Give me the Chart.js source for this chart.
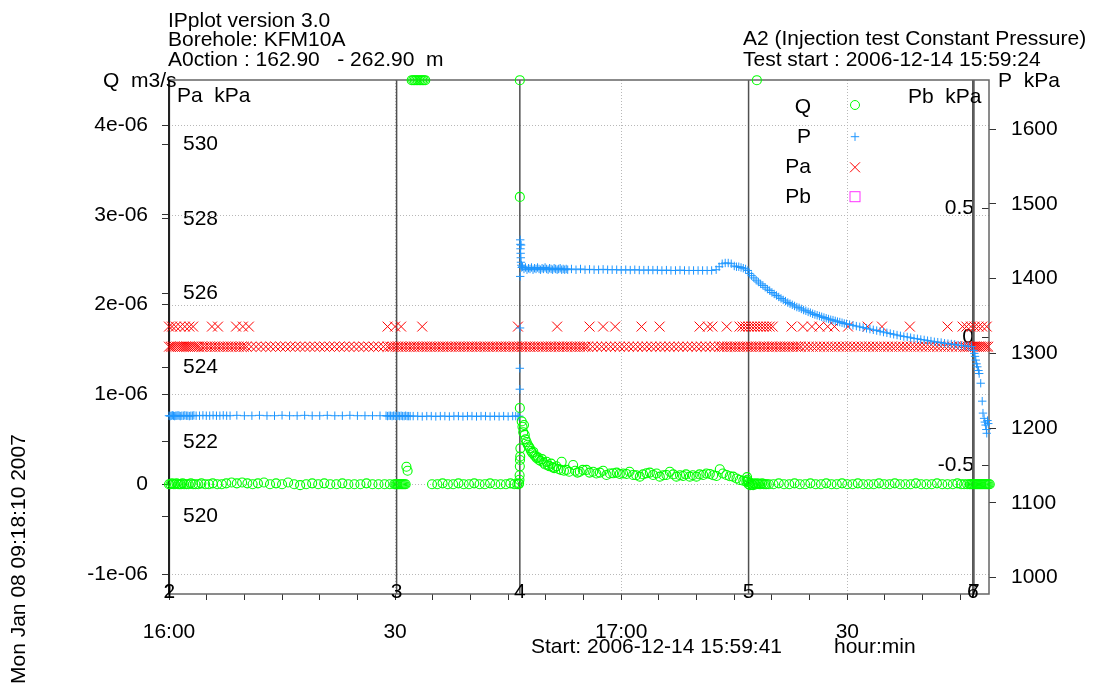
<!DOCTYPE html>
<html><head><meta charset="utf-8">
<script src="https://cdn.jsdelivr.net/npm/chart.js@4.4.1/dist/chart.umd.min.js"></script>
<style>html,body{margin:0;padding:0;background:#fff;}canvas{display:block;}</style>
</head><body>
<canvas id="c" width="1094" height="687"></canvas>
<script>
// ---------- axis ranges / ticks (x in minutes after 16:00) ----------
const xMin = 0, xMax = 108.8;
const xTickValues = [0,5,10,15,20,25,30,35,40,45,50,55,60,65,70,75,80,85,90,95,100,105];
const xLabelValues = [0,30,60,90];
const xLabelTexts = ['16:00','30','17:00','30'];
const xGridValues = [0,30,60,90];

const qMin = -1.222e-6, qMax = 4.502e-6;
const qTickValues = [-1e-6,0,1e-6,2e-6,3e-6,4e-6];
const qTickLabels = ['-1e-06','0','1e-06','2e-06','3e-06','4e-06'];

const paMin = 517.91, paMax = 531.73;
const paTickValues = [520,522,524,526,528,530];
const paTickLabels = ['520','522','524','526','528','530'];

const pMin = 977.8, pMax = 1666.0;
const pTickValues = [1000,1100,1200,1300,1400,1500,1600];
const pTickLabels = ['1000','1100','1200','1300','1400','1500','1600'];

const pbMin = -1, pbMax = 1;
const pbTickValues = [-0.5,0,0.5];
const pbTickLabels = ['-0.5','0','0.5'];

// test events (minutes after 16:00)
const eventNames = ['1','2','3','4','5','6','7'];
const eventTimes = [0,0.05,30.2,46.55,76.9,106.65,106.8];

// ---------- series: [minutes, value] ----------
const qPoints = [
[0,0],[0.2,0],[0.4,1e-8],[0.6,0],[0.8,0],[1,1e-8],[1.2,0],[1.4,0],[1.6,0],[1.8,1e-8],[2,0],[2.3,0],[2.6,0],[2.9,1e-8],[3.2,0],[3.5,0],[3.9,0],[4.3,1e-8],[4.8,0],[5.3,0],[5.8,1e-8],[6.4,0],[7,0],[7.6,1e-8],[8.3,2e-8],[9,1e-8],[9.7,2e-8],[10.4,1e-8],[11.1,0],[11.8,1e-8],[12.6,2e-8],[13.4,0],[14.2,1e-8],[15,0],[15.8,2e-8],[16.6,0],[17.4,-1e-8],[18.2,0],[19,1e-8],[19.8,0],[20.6,1e-8],[21.4,0],[22.2,0],[23,1e-8],[23.8,0],[24.6,0],[25.4,0],[26.2,1e-8],[27,0],[27.8,0],[28.6,0],[29.3,0],
[29.9,0],[30.05,0],[30.2,0],[30.35,0],[30.5,0],[30.65,0],[30.8,0],[30.95,0],[31.1,0],[31.25,0],[31.4,0],[31.5,1.95e-7],[31.66,1.5e-7],
[32.2,4.5e-6],[32.4,4.5e-6],[32.6,4.5e-6],[32.8,4.5e-6],[33,4.5e-6],[33.2,4.5e-6],[33.4,4.5e-6],[33.6,4.5e-6],[33.8,4.5e-6],[34,4.5e-6],
[34.9,0],[35.6,0],[36.3,1e-8],[37,0],[37.7,0],[38.4,1e-8],[39.1,0],[39.8,0],[40.5,1e-8],[41.2,0],[41.9,0],[42.6,1e-8],[43.3,0],[44,0],[44.7,0],[45.3,1e-8],[45.8,0],[46.2,0],[46.4,0],
[46.45,1e-8],[46.5,5e-8],[46.52,1e-7],[46.55,2e-7],[46.57,2.7e-7],[46.6,3.1e-7],[46.62,4e-7],[46.55,8.5e-7],[46.55,3.2e-6],[46.55,4.5e-6],
[46.8,7.0e-7],[46.9,6.4e-7],[47,5.8e-7],[47.1,6.6e-7],[47.2,5.5e-7],[47.3,5.0e-7],[47.45,4.7e-7],[47.6,4.4e-7],[47.75,4.2e-7],[47.9,4.0e-7],[48.05,3.7e-7],[48.2,3.5e-7],[48.35,3.6e-7],[48.5,3.2e-7],[48.65,3.1e-7],[48.8,2.9e-7],[48.95,3.0e-7],[49.1,2.7e-7],[49.3,2.6e-7],[49.5,2.8e-7],[49.7,2.4e-7],[49.9,2.2e-7],[50.1,2.5e-7],[50.3,2.1e-7],[50.5,2.0e-7],[50.7,2.3e-7],[50.9,1.9e-7],[51.1,1.8e-7],[51.4,2.0e-7],[51.7,1.7e-7],[52,1.6e-7],[52.1,2.5e-7],[52.4,1.5e-7],[52.74,1.6e-7],[53.1,1.4e-7],[53.62,2.15e-7],[53.9,1.5e-7],[54.2,1.3e-7],[54.51,1.4e-7],[54.9,1.6e-7],[55.39,1.6e-7],[55.8,1.3e-7],[56.28,1.4e-7],[56.7,1.2e-7],[57.16,1.3e-7],[57.6,1.5e-7],[58.05,1.04e-7],[58.5,1.2e-7],[58.93,1.22e-7],[59.4,1.3e-7],[59.81,1.15e-7],[60.25,1.2e-7],[60.7,1.15e-7],[61.1,1.4e-7],[61.58,1.04e-7],[62,1.0e-7],[62.47,8.5e-8],[62.9,1.1e-7],[63.35,1.22e-7],[63.8,1.3e-7],[64.23,1.04e-7],[64.7,1.2e-7],[65.12,8.5e-8],[65.6,1.0e-7],[66,1.04e-7],[66.45,1.4e-7],[66.9,1.1e-7],[67.33,8.5e-8],[67.8,1.0e-7],[68.21,9.2e-8],[68.6,1.1e-7],[69.1,8.5e-8],[69.5,1.0e-7],[69.98,8.5e-8],[70.4,1.1e-7],[70.87,1.04e-7],[71.3,1.2e-7],[71.75,1.15e-7],[72.2,1.0e-7],[72.64,9.2e-8],[73.08,1.67e-7],[73.5,1.2e-7],[73.96,1.04e-7],[74.4,9e-8],[74.85,8.5e-8],[75.3,6.5e-8],[75.73,4.8e-8],[76.2,4e-8],[76.61,2.9e-8],
[76.7,8e-8],[76.75,5e-8],[76.8,3e-8],[76.9,0],[77,2e-8],[77.1,-1e-8],[77.2,1e-8],[77.35,0],[77.5,-1e-8],[77.65,1e-8],[77.8,0],[77.95,0],[78.1,1e-8],[78.3,0],[78.5,0],[78.7,1e-8],[78.9,0],[79.1,0],[79.3,0],[79.6,0],[78,4.5e-6],
[80.2,0],[80.9,1e-8],[81.6,0],[82.3,0],[83,1e-8],[83.7,0],[84.4,0],[85.1,1e-8],[85.8,0],[86.5,0],[87.2,1e-8],[87.9,0],[88.6,0],[89.3,1e-8],[90,0],[90.7,0],[91.4,1e-8],[92.1,0],[92.8,0],[93.5,0],[94.2,1e-8],[94.9,0],[95.6,0],[96.3,1e-8],[97,0],[97.7,0],[98.4,0],[99.1,1e-8],[99.8,0],[100.5,0],[101.2,0],[101.9,1e-8],[102.6,0],[103.3,0],[104,0],[104.6,1e-8],[105.1,0],[105.5,0],[105.9,0],
[106.2,0],[106.35,0],[106.5,0],[106.65,0],[106.8,0],[106.95,0],[107.1,0],[107.25,0],[107.4,0],[107.55,0],[107.7,0],[107.85,0],[108,0],[108.15,0],[108.3,0],[108.45,0],[108.6,0],[108.75,0],[108.9,0]
];

const pPoints = [
[0,1216.5],[0.15,1216],[0.3,1216.5],[0.45,1217],[0.6,1216.5],[0.75,1216],[0.9,1216.5],[1.05,1216.5],[1.2,1217],[1.35,1216.5],[1.5,1216],[1.7,1216.5],[1.9,1216.5],[2.1,1217],[2.3,1216.5],[2.5,1216.5],[2.7,1216],[2.9,1216.5],[3.1,1216.5],[3.3,1217],
[3.6,1216.5],[4.05,1216.5],[4.5,1217],[4.95,1216.5],[5.4,1216.5],[5.85,1217],[6.3,1216.5],[6.75,1216.5],[7.2,1217],[7.65,1216.5],[8.1,1216.5],
[9,1217],[10,1216.5],[11,1216.5],[12,1217],[13,1216.5],[14,1216.5],[15,1217],[16,1216.5],[17,1216.5],[18,1217],[19,1216.5],[20,1216.5],[21,1217],[22,1216.5],[23,1216.5],[24,1217],[25,1216.5],[26,1216.5],[27,1216.5],[28,1216.5],
[28.8,1216.5],[29,1216],[29.2,1216.5],[29.4,1216.5],[29.6,1216],[29.8,1216.5],[30,1216.5],[30.2,1216],[30.4,1216.5],[30.6,1216],[30.8,1216.5],[31,1216],[31.2,1216],[31.4,1216.5],[31.6,1216],[31.8,1216],[32,1216],
[32.4,1216],[33,1216],[33.6,1215.5],[34.2,1216],[34.8,1216],[35.4,1215.5],[36,1216],[36.6,1216],[37.2,1215.5],[37.8,1216],[38.4,1216],[39,1215.5],[39.6,1216],[40.2,1216],[40.8,1215.5],[41.4,1216],[42,1216],[42.6,1215.5],[43.2,1216],[43.8,1215.5],[44.4,1216],[45,1215.5],[45.6,1216],[46,1216],[46.3,1215.5],
[46.45,1216],[46.55,1252],[46.55,1280],[46.58,1334],[46.6,1403],[46.6,1452],[46.62,1446],[46.64,1440],[46.66,1434],[46.68,1428],[46.7,1422],[46.72,1445],[46.75,1418],[46.8,1415],
[46.9,1416],[47.1,1413],[47.3,1415],[47.5,1412],[47.7,1414],[47.9,1413],[48.1,1415],[48.3,1412],[48.5,1414],[48.7,1413],[48.9,1415],[49.1,1413],[49.3,1412],[49.5,1414],[49.7,1413],[49.9,1415],[50.1,1413],[50.3,1412],[50.5,1414],[50.7,1413],[50.9,1412],[51.1,1414],[51.3,1413],[51.5,1412],[51.7,1413],[51.9,1414],[52.1,1412],[52.3,1413],[52.5,1412],[52.7,1413],[52.9,1412],
[53.4,1413],[54,1412],[54.6,1413],[55.2,1412],[55.8,1412.5],[56.4,1412],[57,1412],[57.6,1412.5],[58.2,1412],[58.8,1412],[59.4,1412],[60,1411.5],[60.6,1412],[61.2,1411.5],[61.8,1412],[62.4,1411.5],[63,1411.5],[63.6,1411.5],[64.2,1411.5],[64.8,1411.5],[65.4,1411],[66,1411.5],[66.6,1411],[67.2,1411],[67.8,1411.5],[68.4,1411],[69,1411],[69.6,1411],[70.2,1411],[70.8,1411],[71.4,1411],[72,1411],[72.6,1412],
[73,1416],[73.4,1420],[73.8,1421],[74.2,1421],[74.6,1420],[75,1417],[75.3,1416],[75.6,1416],[75.9,1415],[76.2,1414],[76.5,1413],[76.8,1411],
[77,1407],[77.3,1404],[77.6,1401],[77.9,1398],[78.2,1395.5],[78.5,1393],[78.8,1391],[79.1,1388.5],[79.4,1386],[79.7,1384],[80,1381.5],[80.3,1379.5],[80.6,1377.5],[80.9,1375.5],[81.2,1373.5],[81.5,1371.5],[81.8,1370],[82.1,1368],[82.4,1366.5],[82.7,1365],[83,1363.5],[83.3,1362],[83.6,1361],[83.9,1359.5],[84.2,1358],[84.5,1357],[84.8,1355.5],[85.1,1354.5],[85.4,1353],[85.7,1352],[86,1351],[86.3,1350],[86.6,1349],[86.9,1348],[87.2,1347],[87.5,1346],[87.8,1345],[88.1,1344.5],[88.4,1343.5],[88.7,1342.5],[89,1342],[89.3,1341],[89.6,1340],[89.9,1339.5],
[90.3,1338.5],[90.75,1337.5],[91.2,1336.5],[91.65,1335.5],[92.1,1334.5],[92.55,1333.5],[93,1332.5],[93.45,1331.5],[93.9,1330.5],[94.35,1329.5],[94.8,1328.5],[95.25,1327.5],[95.7,1326.5],[96.15,1325.5],[96.6,1324.5],[97.05,1323.5],[97.5,1322.5],[97.95,1322],[98.4,1321],[98.85,1320],[99.3,1319.5],[99.75,1318.5],[100.2,1318],[100.65,1317],[101.1,1316.5],[101.55,1315.5],[102,1315],[102.45,1314.5],[102.9,1313.5],[103.35,1313],[103.8,1312.5],[104.25,1312],[104.7,1311],[105.15,1310.5],[105.6,1310],[106.05,1309.5],[106.5,1309],
[106.75,1304],[106.85,1300],[106.95,1296],[107.05,1291],[107.15,1286],[107.25,1282],[107.4,1277],[107.5,1273],[107.7,1260],[107.9,1236],[108,1220],[108.15,1213],[108.25,1208],[108.35,1204],[108.45,1198],[108.5,1193],[108.6,1210],[108.7,1206]
];

const paPoints = [
// main level
[0,524.56],[0.25,524.56],[0.5,524.56],[0.75,524.56],[1,524.56],[1.25,524.56],[1.5,524.56],[1.75,524.56],[2,524.56],[2.25,524.56],[2.5,524.56],[2.75,524.56],[3,524.56],[3.25,524.56],[3.5,524.56],[3.75,524.56],[4,524.56],
[4.35,524.56],[4.7,524.56],[5.05,524.56],[5.4,524.56],[5.75,524.56],[6.1,524.56],[6.45,524.56],[6.8,524.56],[7.15,524.56],[7.5,524.56],[7.85,524.56],[8.2,524.56],[8.55,524.56],[8.9,524.56],[9.25,524.56],[9.6,524.56],[9.95,524.56],[10.3,524.56],
[10.9,524.56],[11.55,524.56],[12.2,524.56],[12.85,524.56],[13.5,524.56],[14.15,524.56],[14.8,524.56],[15.45,524.56],[16.1,524.56],[16.75,524.56],[17.4,524.56],[18.05,524.56],[18.7,524.56],[19.35,524.56],[20,524.56],[20.65,524.56],[21.3,524.56],[21.95,524.56],[22.6,524.56],[23.25,524.56],[23.9,524.56],[24.55,524.56],[25.2,524.56],[25.85,524.56],[26.5,524.56],[27.15,524.56],[27.8,524.56],[28.45,524.56],
[29,524.56],[29.35,524.56],[29.7,524.56],[30.05,524.56],[30.4,524.56],[30.75,524.56],[31.1,524.56],[31.45,524.56],[31.8,524.56],[32.15,524.56],[32.5,524.56],[32.85,524.56],[33.2,524.56],[33.55,524.56],[33.9,524.56],[34.25,524.56],[34.6,524.56],[34.95,524.56],[35.3,524.56],[35.65,524.56],[36,524.56],[36.35,524.56],[36.7,524.56],[37.05,524.56],[37.4,524.56],[37.75,524.56],[38.1,524.56],[38.45,524.56],[38.8,524.56],[39.15,524.56],[39.5,524.56],[39.85,524.56],[40.2,524.56],[40.55,524.56],[40.9,524.56],[41.25,524.56],[41.6,524.56],[41.95,524.56],[42.3,524.56],[42.65,524.56],[43,524.56],[43.35,524.56],[43.7,524.56],[44.05,524.56],[44.4,524.56],[44.75,524.56],[45.1,524.56],[45.45,524.56],[45.8,524.56],[46.15,524.56],[46.5,524.56],[46.85,524.56],[47.2,524.56],[47.55,524.56],[47.9,524.56],[48.25,524.56],[48.6,524.56],[48.95,524.56],[49.3,524.56],[49.65,524.56],[50,524.56],[50.35,524.56],[50.7,524.56],[51.05,524.56],[51.4,524.56],[51.75,524.56],[52.1,524.56],[52.45,524.56],[52.8,524.56],[53.15,524.56],[53.5,524.56],[53.85,524.56],[54.2,524.56],[54.55,524.56],[54.9,524.56],[55.25,524.56],[55.6,524.56],
[56.2,524.56],[56.8,524.56],[57.4,524.56],[58,524.56],[58.6,524.56],[59.2,524.56],[59.8,524.56],[60.4,524.56],[61,524.56],[61.6,524.56],[62.2,524.56],[62.8,524.56],[63.4,524.56],[64,524.56],[64.6,524.56],[65.2,524.56],[65.8,524.56],[66.4,524.56],[67,524.56],[67.6,524.56],[68.2,524.56],[68.8,524.56],[69.4,524.56],[70,524.56],[70.6,524.56],[71.2,524.56],[71.8,524.56],[72.4,524.56],
[73,524.56],[73.35,524.56],[73.7,524.56],[74.05,524.56],[74.4,524.56],[74.75,524.56],[75.1,524.56],[75.45,524.56],[75.8,524.56],[76.15,524.56],[76.5,524.56],[76.85,524.56],[77.2,524.56],[77.55,524.56],[77.9,524.56],[78.25,524.56],[78.6,524.56],[78.95,524.56],[79.3,524.56],[79.65,524.56],[80,524.56],[80.35,524.56],[80.7,524.56],[81.05,524.56],[81.4,524.56],[81.75,524.56],[82.1,524.56],[82.45,524.56],[82.8,524.56],[83.15,524.56],[83.5,524.56],[83.85,524.56],
[84.4,524.56],[84.9,524.56],[85.4,524.56],[85.9,524.56],[86.4,524.56],[86.9,524.56],[87.4,524.56],[87.9,524.56],[88.4,524.56],[88.9,524.56],[89.4,524.56],[89.9,524.56],[90.4,524.56],[90.9,524.56],[91.4,524.56],[91.9,524.56],[92.4,524.56],[92.9,524.56],[93.4,524.56],[93.9,524.56],[94.4,524.56],[94.9,524.56],[95.4,524.56],[95.9,524.56],[96.4,524.56],[96.9,524.56],[97.4,524.56],[97.9,524.56],[98.4,524.56],[98.9,524.56],[99.4,524.56],[99.9,524.56],[100.4,524.56],[100.9,524.56],[101.4,524.56],[101.9,524.56],[102.4,524.56],[102.9,524.56],[103.4,524.56],[103.9,524.56],[104.4,524.56],[104.9,524.56],[105.4,524.56],
[105.7,524.56],[105.95,524.56],[106.2,524.56],[106.45,524.56],[106.7,524.56],[106.95,524.56],[107.2,524.56],[107.45,524.56],[107.7,524.56],[107.95,524.56],[108.2,524.56],[108.45,524.56],[108.7,524.56],
// upper level
[0,525.1],[0.4,525.1],[0.9,525.1],[1.5,525.1],[2.1,525.1],[2.7,525.1],[3.2,525.1],[5.7,525.1],[6.5,525.1],[8.9,525.1],[9.8,525.1],[10.6,525.1],[29,525.1],[30,525.1],[30.8,525.1],[33.6,525.1],[46.3,525.1],[51.5,525.1],[55.8,525.1],[57.6,525.1],[59.2,525.1],[62.7,525.1],[65.1,525.1],[70.4,525.1],[71.5,525.1],[72.1,525.1],[74,525.1],[75.7,525.1],[76.1,525.1],[76.5,525.1],[76.9,525.1],[77.3,525.1],[77.7,525.1],[78.1,525.1],[78.5,525.1],[78.9,525.1],[79.3,525.1],[79.7,525.1],[80.1,525.1],[82.6,525.1],[84.1,525.1],[85.3,525.1],[86.3,525.1],[87.4,525.1],[88.3,525.1],[90.1,525.1],[92.7,525.1],[94.6,525.1],[98.3,525.1],[103.3,525.1],[105.3,525.1],[105.8,525.1],[106.4,525.1],[106.9,525.1],[107.4,525.1],[107.9,525.1],[108.5,525.1]
];

const pbPoints = [];

// ---------- styles ----------
const FONT = '"Liberation Sans", Arial, Helvetica, sans-serif';
Chart.defaults.font.family = FONT;
Chart.defaults.font.size = 21;
Chart.defaults.color = '#000';
const toXY = a => a.map(p => ({x: p[0], y: p[1]}));
const ticksFrom = vals => s => { s.ticks = vals.map(v => ({value: v})); };

const overlay = {
  id: 'overlay',
  beforeDatasetsDraw(chart) {
    const {ctx, chartArea: a, scales} = chart;
    ctx.save();
    // dotted grid
    ctx.strokeStyle = '#b8b8b8'; ctx.lineWidth = 1; ctx.setLineDash([1, 2]);
    qTickValues.forEach(v => {
      const y = Math.round(scales.yQ.getPixelForValue(v)) + 0.5;
      ctx.beginPath(); ctx.moveTo(a.left, y); ctx.lineTo(a.right, y); ctx.stroke();
    });
    xGridValues.forEach(v => {
      const x = Math.round(scales.x.getPixelForValue(v)) + 0.5;
      ctx.beginPath(); ctx.moveTo(x, a.top); ctx.lineTo(x, a.bottom); ctx.stroke();
    });
    ctx.setLineDash([]);
    // event lines
    ctx.strokeStyle = '#505050'; ctx.lineWidth = 1.5;
    eventTimes.forEach(t => {
      const x = scales.x.getPixelForValue(t);
      ctx.beginPath(); ctx.moveTo(x, a.top); ctx.lineTo(x, a.bottom); ctx.stroke();
    });
    // frame
    ctx.strokeStyle = '#666'; ctx.lineWidth = 1.5;
    ctx.strokeRect(a.left, a.top, a.right - a.left, a.bottom - a.top);
    ctx.strokeStyle = '#222'; ctx.lineWidth = 2;
    ctx.beginPath(); ctx.moveTo(a.left, a.top); ctx.lineTo(a.left, a.bottom); ctx.stroke();
    ctx.restore();
  },
  afterDraw(chart) {
    const {ctx, chartArea: a, scales} = chart;
    ctx.save();
    ctx.fillStyle = '#000';
    ctx.font = '21px ' + FONT;
    ctx.textBaseline = 'alphabetic';
    ctx.textAlign = 'left';
    ctx.fillText('IPplot version 3.0', 168, 26.5);
    ctx.fillText('Borehole: KFM10A', 168, 46);
    ctx.fillText('A0ction : 162.90   - 262.90  m', 168, 66);
    ctx.fillText('A2 (Injection test Constant Pressure)', 743, 45);
    ctx.fillText('Test start : 2006-12-14 15:59:24', 743, 66);
    ctx.fillText('Q  m3/s', 103, 87);
    ctx.fillText('Pa  kPa', 177, 102);
    ctx.fillText('P  kPa', 998, 87);
    ctx.fillText('Pb  kPa', 908, 103);
    ctx.fillText('Start: 2006-12-14 15:59:41', 531, 653);
    ctx.fillText('hour:min', 834, 653);
    // event labels
    ctx.textAlign = 'center';
    eventTimes.forEach((t, i) => {
      ctx.fillText(eventNames[i], scales.x.getPixelForValue(t), 598);
    });
    // legend
    const names = ['Q', 'P', 'Pa', 'Pb'];
    const ly = [113, 143.3, 173.3, 203.3];
    const my = [105, 136.7, 167.3, 196.7];
    ctx.textAlign = 'right';
    names.forEach((n, i) => ctx.fillText(n, 811, ly[i]));
    const mx = 855;
    ctx.lineWidth = 1;
    ctx.strokeStyle = '#00ff00';
    ctx.beginPath(); ctx.arc(mx, my[0], 4.5, 0, Math.PI * 2); ctx.stroke();
    ctx.strokeStyle = '#1e96ff';
    ctx.beginPath(); ctx.moveTo(mx - 4.2, my[1]); ctx.lineTo(mx + 4.2, my[1]);
    ctx.moveTo(mx, my[1] - 4.2); ctx.lineTo(mx, my[1] + 4.2); ctx.stroke();
    ctx.strokeStyle = '#ff0000';
    ctx.beginPath(); ctx.moveTo(mx - 5, my[2] - 5); ctx.lineTo(mx + 5, my[2] + 5);
    ctx.moveTo(mx - 5, my[2] + 5); ctx.lineTo(mx + 5, my[2] - 5); ctx.stroke();
    ctx.strokeStyle = '#ff33ff';
    ctx.strokeRect(mx - 5, my[3] - 5, 10, 10);
    // rotated date
    ctx.save();
    ctx.translate(25, 684);
    ctx.rotate(-Math.PI / 2);
    ctx.textAlign = 'left';
    ctx.fillText('Mon Jan 08 09:18:10 2007', 0, 0);
    ctx.restore();
    ctx.restore();
  }
};

const axisCommon = {
  bounds: 'data',
  border: {display: false},
};

new Chart(document.getElementById('c'), {
  type: 'scatter',
  data: {
    datasets: [
      {label: 'Q', data: toXY(qPoints), yAxisID: 'yQ', pointStyle: 'circle', pointRadius: 4.5,
       borderColor: '#00ff00', backgroundColor: 'rgba(0,0,0,0)', borderWidth: 1.1, clip: false},
      {label: 'P', data: toXY(pPoints), yAxisID: 'yP', pointStyle: 'cross', pointRadius: 4.2,
       borderColor: '#1e96ff', backgroundColor: '#1e96ff', borderWidth: 1, clip: false},
      {label: 'Pa', data: toXY(paPoints), yAxisID: 'yPa', pointStyle: 'crossRot', pointRadius: 7,
       borderColor: '#ff0000', backgroundColor: '#ff0000', borderWidth: 1, clip: false},
      {label: 'Pb', data: toXY(pbPoints), yAxisID: 'yPb', pointStyle: 'rect', pointRadius: 7,
       borderColor: '#ff33ff', backgroundColor: 'rgba(0,0,0,0)', borderWidth: 1, clip: false}
    ]
  },
  options: {
    responsive: false, animation: false, devicePixelRatio: 1, events: [],
    layout: {padding: {left: 0, right: 0, top: 80, bottom: 0}},
    plugins: {legend: {display: false}, tooltip: {enabled: false}, title: {display: false}},
    scales: {
      x: Object.assign({}, axisCommon, {
        type: 'linear', position: 'bottom', min: xMin, max: xMax,
        afterBuildTicks: ticksFrom(xTickValues),
        afterFit: s => { s.height = 93; },
        grid: {drawOnChartArea: false, drawTicks: true, tickLength: 6, tickColor: '#333', tickWidth: 1},
        ticks: {autoSkip: false, maxRotation: 0, minRotation: 0, padding: 20,
          callback: v => { const i = xLabelValues.indexOf(v); return i < 0 ? '' : xLabelTexts[i]; }}
      }),
      yQ: Object.assign({}, axisCommon, {
        type: 'linear', position: 'left', weight: 2, min: qMin, max: qMax,
        afterBuildTicks: ticksFrom(qTickValues),
        afterFit: s => { s.width = 169; },
        grid: {drawOnChartArea: false, tickLength: 7, tickColor: '#333', tickWidth: 1},
        ticks: {padding: 14, callback: (v, i) => qTickLabels[i]}
      }),
      yPa: Object.assign({}, axisCommon, {
        type: 'linear', position: 'left', weight: 1, min: paMin, max: paMax,
        afterBuildTicks: ticksFrom(paTickValues),
        afterFit: s => { s.width = 0; },
        grid: {drawOnChartArea: false, tickLength: 7, tickColor: '#333', tickWidth: 1},
        ticks: {mirror: true, padding: 14, callback: (v, i) => paTickLabels[i]}
      }),
      yP: Object.assign({}, axisCommon, {
        type: 'linear', position: 'right', weight: 2, min: pMin, max: pMax,
        afterBuildTicks: ticksFrom(pTickValues),
        afterFit: s => { s.width = 105; },
        grid: {drawOnChartArea: false, tickLength: 7, tickColor: '#333', tickWidth: 1},
        ticks: {padding: 15, callback: (v, i) => pTickLabels[i]}
      }),
      yPb: Object.assign({}, axisCommon, {
        type: 'linear', position: 'right', weight: 1, min: pbMin, max: pbMax,
        afterBuildTicks: ticksFrom(pbTickValues),
        afterFit: s => { s.width = 0; },
        grid: {drawOnChartArea: false, tickLength: -7, tickColor: '#333', tickWidth: 1},
        ticks: {mirror: true, padding: -15, callback: (v, i) => pbTickLabels[i]}
      })
    }
  },
  plugins: [overlay]
});
</script>
</body></html>
